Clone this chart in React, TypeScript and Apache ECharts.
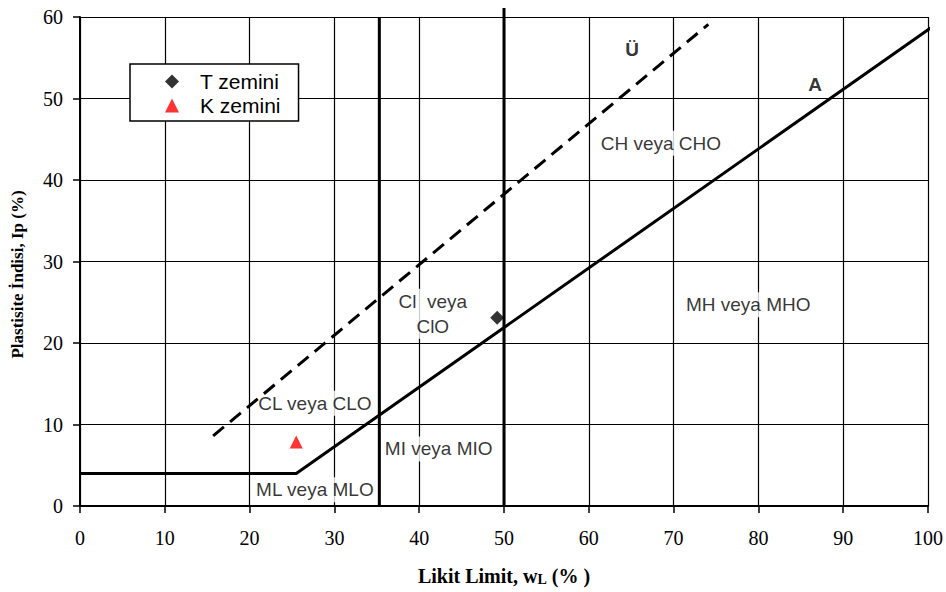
import React, { useEffect, useRef } from "react";
import * as echarts from "echarts";

const xTicks = [0, 10, 20, 30, 40, 50, 60, 70, 80, 90, 100];
const yTicks = [0, 10, 20, 30, 40, 50, 60];

// A-line (with horizontal part at Ip = 4)
const aLine: number[][] = [[0, 4], [25.5, 4], [101.2, 59.3]];
// U-line (dashed)
const uLine: number[][] = [[15.7, 8.6], [74.1, 59.1]];
// vertical boundaries
const v35: number[][] = [[35.3, 0], [35.3, 60]];
const v50: number[][] = [[50, 0], [50, 61.1]];

const tSoil: number[][] = [[49.2, 23.1]];
const kSoil: number[][] = [[25.5, 7.85]];

const zoneLabels = [
  { name: "CH veya CHO", value: [68.5, 44.5] },
  { name: "MH veya MHO", value: [78.8, 24.7] },
  { name: "Cl  veya\nClO", value: [41.6, 23.6] },
  { name: "CL veya CLO", value: [27.7, 12.6] },
  { name: "MI veya MIO", value: [42.3, 7.0] },
  { name: "ML veya MLO", value: [27.7, 2.0] },
];
const lineLabels = [
  { name: "Ü", value: [65.1, 56.0] },
  { name: "A", value: [86.7, 51.7] },
];

export default function App() {
  const ref = useRef<HTMLDivElement>(null);
  useEffect(() => {
    if (!ref.current) return;
    const chart = echarts.init(ref.current, null, { renderer: "svg" });
    const serif = "'Liberation Serif', 'Times New Roman', serif";
    const sans = "'Liberation Sans', Arial, sans-serif";
    chart.setOption({
      animation: false,
      backgroundColor: "#fff",
      grid: { left: 80, right: 18, top: 17, bottom: 86 },
      legend: {
        left: 130,
        top: 64,
        orient: "vertical",
        data: ["T zemini", "K zemini"],
        backgroundColor: "#fff",
        borderColor: "#000",
        borderWidth: 1.5,
        borderRadius: 0,
        padding: [7, 18, 5, 35],
        itemGap: 3,
        itemWidth: 14,
        itemHeight: 14,
        textStyle: { fontFamily: sans, fontSize: 21, color: "#000", padding: [0, 0, 0, 16] },
      },
      xAxis: {
        type: "value",
        min: 0,
        max: 100,
        interval: 10,
        name: "{b|Likit Limit, w}{s|L}{b| (% )}",
        nameLocation: "middle",
        nameGap: 60,
        nameTextStyle: {
          rich: {
            b: { fontFamily: serif, fontWeight: "bold", fontSize: 20, color: "#000" },
            s: { fontFamily: serif, fontWeight: "bold", fontSize: 14, color: "#000", verticalAlign: "bottom", padding: [6, 0, 0, 0] },
          },
        },
        axisLine: { show: true, onZero: false, lineStyle: { color: "#000", width: 2 } },
        axisTick: { show: true, length: 7, lineStyle: { color: "#000", width: 1.5 } },
        axisLabel: { fontFamily: serif, fontSize: 20, color: "#000", margin: 22 },
        splitLine: { show: true, lineStyle: { color: "#000", width: 1.2 } },
      },
      yAxis: {
        type: "value",
        min: 0,
        max: 60,
        interval: 10,
        name: "Plastisite İndisi, Ip (%)",
        nameLocation: "middle",
        nameGap: 54,
        nameTextStyle: { fontFamily: serif, fontWeight: "bold", fontSize: 17, color: "#000", padding: [0, 26, 0, 0] },
        axisLine: { show: true, onZero: false, lineStyle: { color: "#000", width: 2 } },
        axisTick: { show: true, length: 7, lineStyle: { color: "#000", width: 1.5 } },
        axisLabel: { fontFamily: serif, fontSize: 20, color: "#000", margin: 17 },
        splitLine: { show: true, lineStyle: { color: "#000", width: 1.2 } },
      },
      series: [
        {
          type: "line",
          data: v35,
          symbol: "none",
          silent: true,
          clip: false,
          lineStyle: { color: "#000", width: 3 },
          z: 3,
        },
        {
          type: "line",
          data: v50,
          symbol: "none",
          silent: true,
          clip: false,
          lineStyle: { color: "#000", width: 3 },
          z: 3,
        },
        {
          type: "scatter",
          data: zoneLabels,
          symbolSize: 0,
          silent: true,
          z: 4,
          label: {
            show: true,
            position: "inside",
            formatter: "{b}",
            fontFamily: sans,
            fontSize: 19,
            color: "#000",
            lineHeight: 25,
            backgroundColor: "#fff",
            padding: [0, 1],
          },
        },
        {
          type: "line",
          data: aLine,
          symbol: "none",
          silent: true,
          clip: false,
          lineStyle: { color: "#000", width: 3 },
          z: 5,
        },
        {
          type: "line",
          data: uLine,
          symbol: "none",
          silent: true,
          clip: false,
          lineStyle: { color: "#000", width: 3, type: [14, 8] },
          z: 5,
        },
        {
          type: "scatter",
          data: lineLabels,
          symbolSize: 0,
          silent: true,
          z: 6,
          label: {
            show: true,
            position: "inside",
            formatter: "{b}",
            fontFamily: sans,
            fontWeight: "bold",
            fontSize: 19,
            color: "#000",
          },
        },
        {
          name: "T zemini",
          type: "scatter",
          data: tSoil,
          symbol: "diamond",
          symbolSize: 14,
          itemStyle: { color: "#000" },
          z: 7,
        },
        {
          name: "K zemini",
          type: "scatter",
          data: kSoil,
          symbol: "triangle",
          symbolSize: 13,
          itemStyle: { color: "#ff0000" },
          z: 7,
        },
      ],
    });
    return () => chart.dispose();
  }, []);
  return (
    <div
      ref={ref}
      style={{ position: "fixed", left: 0, top: 0, width: 946, height: 592, background: "#fff" }}
    />
  );
}
